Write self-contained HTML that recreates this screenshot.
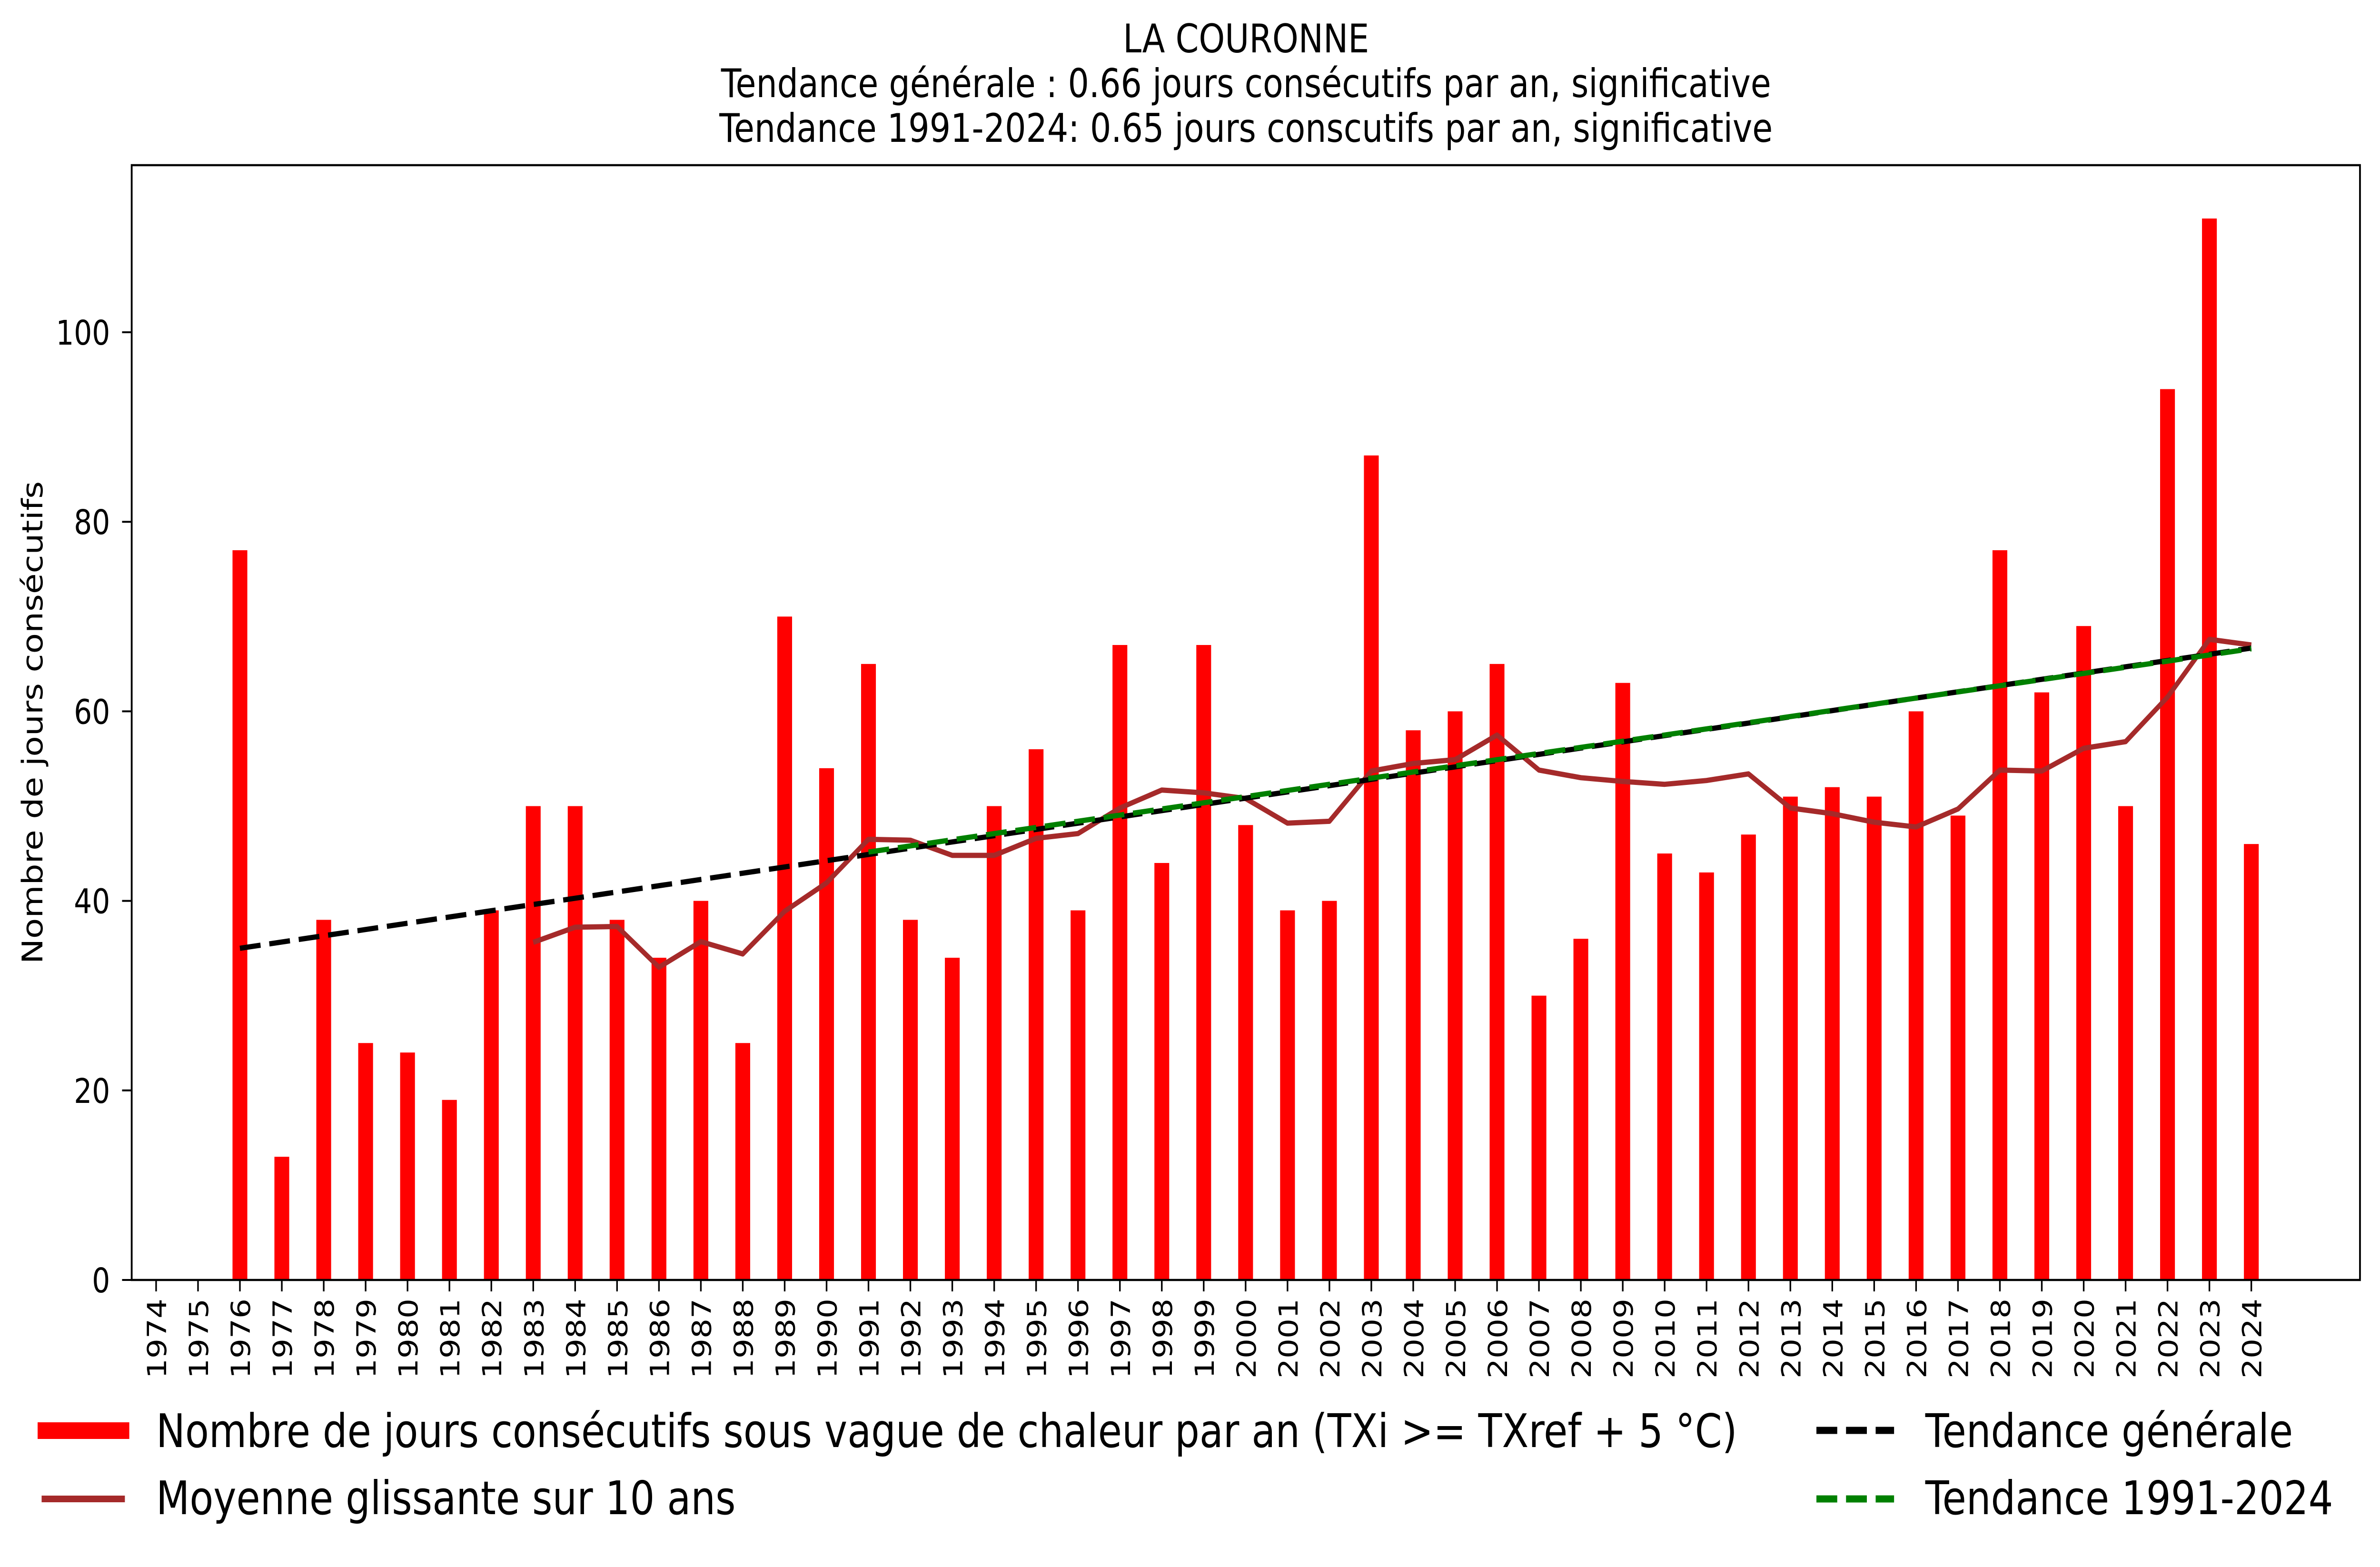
<!DOCTYPE html>
<html><head><meta charset="utf-8"><style>
html,body{margin:0;padding:0;background:#fff;overflow:hidden;width:100vw;height:100vh;}
svg{display:block;width:100vw;height:100vh;font-family:"DejaVu Sans","Liberation Sans",sans-serif;}
</style></head><body>
<svg id="s" viewBox="0 0 5946 3292" preserveAspectRatio="none" xmlns="http://www.w3.org/2000/svg">
<rect width="5946" height="3292" fill="#fff"/>
<g font-size="83" text-anchor="middle" fill="#000">
<text x="3113" y="110">LA COURONNE</text>
<text x="3113" y="204">Tendance générale : 0.66 jours consécutifs par an, significative</text>
<text x="3113" y="298">Tendance 1991-2024: 0.65 jours conscutifs par an, significative</text>
</g>
<g id="plot"></g>
<rect x="329" y="347" width="5567" height="2342" fill="none" stroke="#000" stroke-width="4.5"/>
<text transform="translate(106,1518) rotate(-90)" font-size="71" text-anchor="middle">Nombre de jours consécutifs</text>
<g font-size="97">
<rect x="94" y="2988" width="229" height="35" fill="#ff0000"/>
<text x="390" y="3040">Nombre de jours consécutifs sous vague de chaleur par an (TXi &gt;= TXref + 5 °C)</text>
<line x1="104" y1="3149" x2="312" y2="3149" stroke="#a52a2a" stroke-width="14"/>
<text x="390" y="3181">Moyenne glissante sur 10 ans</text>
<line x1="4538" y1="3005" x2="4732" y2="3005" stroke="#000" stroke-width="15" stroke-dasharray="52 22"/>
<text x="4810" y="3040">Tendance générale</text>
<line x1="4538" y1="3149" x2="4732" y2="3149" stroke="#008000" stroke-width="15" stroke-dasharray="52 22"/>
<text x="4810" y="3181">Tendance 1991-2024</text>
</g>
</svg>
<script>
var v=[0,0,77,13,38,25,24,19,39,50,50,38,34,40,25,70,54,65,38,34,50,56,39,67,44,67,48,39,40,87,58,60,65,30,36,63,45,43,47,51,52,51,60,49,77,62,69,50,94,112,46];
function X(i){return 390+i*104.69;}
function Y(val){return 2689-val*19.91;}
var h='';
for(var i=0;i<v.length;i++){
 if(v[i]>0) h+='<rect x="'+(X(i)-18.5)+'" y="'+Y(v[i])+'" width="37" height="'+(v[i]*19.91)+'" fill="#ff0000"/>';
}
var pts=[];
for(var i=9;i<v.length;i++){
 var s=0,n=0;for(var j=i-9;j<=i;j++){if(j>=2){s+=v[j];n++;}}
 pts.push(X(i).toFixed(1)+','+Y(s/n).toFixed(1));
}
h+='<polyline points="'+pts.join(' ')+'" fill="none" stroke="#a52a2a" stroke-width="11" stroke-linejoin="round"/>';
h+='<line x1="'+X(2)+'" y1="'+Y(35.0)+'" x2="'+X(50)+'" y2="'+Y(35.0+0.66*48)+'" stroke="#000" stroke-width="11" stroke-dasharray="52 22"/>';
h+='<line x1="'+X(17)+'" y1="'+Y(45.15)+'" x2="'+X(50)+'" y2="'+Y(45.15+0.65*33)+'" stroke="#008000" stroke-width="11" stroke-dasharray="52 22"/>';
for(var t=0;t<=100;t+=20){
 var y=Y(t);
 h+='<line x1="305" y1="'+y+'" x2="329" y2="'+y+'" stroke="#000" stroke-width="4"/>';
 h+='<text x="275" y="'+(y+26)+'" font-size="71" text-anchor="end">'+t+'</text>';
}
for(var i=0;i<v.length;i++){
 var x=X(i);
 h+='<line x1="'+x+'" y1="2689" x2="'+x+'" y2="2713" stroke="#000" stroke-width="4"/>';
 h+='<text transform="translate('+(x+25)+',2728) rotate(-90)" font-size="66" text-anchor="end">'+(1974+i)+'</text>';
}
document.getElementById('plot').innerHTML=h;
</script>
</body></html>
